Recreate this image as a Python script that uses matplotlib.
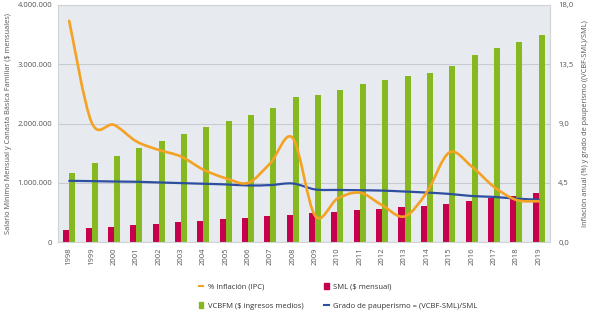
import numpy as np
import matplotlib
matplotlib.use("Agg")
import matplotlib.pyplot as plt
from matplotlib.path import Path
from matplotlib.patches import PathPatch
from matplotlib.lines import Line2D
from matplotlib.patches import Patch

years = [str(y) for y in range(1998, 2020)]
sml = [203826, 236460, 260100, 286000, 309000, 332000, 358000, 381500, 408000, 433700, 461500,
       496900, 515000, 535600, 566700, 589500, 616000, 644350, 689455, 737717, 781242, 828116]
vcbfm = [1160000, 1330000, 1460000, 1580000, 1700000, 1820000, 1940000, 2040000, 2140000, 2270000, 2450000,
         2490000, 2570000, 2670000, 2740000, 2810000, 2850000, 2970000, 3160000, 3280000, 3380000, 3490000]
inflacion = [16.8, 9.1, 8.9, 7.65, 7.0, 6.5, 5.5, 4.85, 4.5, 6.0, 7.9,
             2.0, 3.3, 3.75, 2.8, 1.95, 3.8, 6.8, 5.75, 4.2, 3.2, 3.1]
pauperismo = [4.65, 4.63, 4.6, 4.58, 4.53, 4.48, 4.43, 4.38, 4.3, 4.33, 4.45,
              4.0, 3.96, 3.94, 3.91, 3.84, 3.76, 3.66, 3.5, 3.43, 3.3, 3.22]

left_ticks = [0, 1000000, 2000000, 3000000, 4000000]
left_labels = ["0", "1.000.000", "2.000.000", "3.000.000", "4.000.000"]
right_ticks = [0, 4.5, 9, 13.5, 18]
right_labels = ["0,0", "4,5", "9,0", "13,5", "18,0"]

c_green = "#86B81F"
c_red = "#C6004C"
c_orange = "#F4A224"
c_blue = "#2E4FA0"
txt = "#555555"

plt.rcParams['font.family'] = ['Open Sans', 'DejaVu Sans']

fig = plt.figure(figsize=(5.89, 3.12), dpi=100)
ax = fig.add_axes([0.0985, 0.224, 0.835, 0.76])
ax.set_facecolor("#E7EAEF")
x = np.arange(len(years))
w = 0.27
ax.bar(x - w / 2, sml, width=w, color=c_red, zorder=2)
ax.bar(x + w / 2, vcbfm, width=w, color=c_green, zorder=2)
ax.set_xlim(-0.5, len(years) - 0.5)
ax.set_ylim(0, 4000000)
ax.set_yticks(left_ticks)
ax.set_yticklabels(left_labels)
ax.grid(axis='y', color="#C8CBD0", linewidth=0.8, zorder=0)
ax.set_axisbelow(True)
ax.set_xticks(x)
ax.set_xticklabels(years, rotation=90)
ax.tick_params(axis='both', length=0, labelsize=5.5, colors=txt, pad=4)
for s in ax.spines.values():
    s.set_color("#D0D3D8")
    s.set_linewidth(0.8)
ax.set_ylabel("Salario Mínimo Mensual y Canasta Básica Familiar ($ mensuales)", fontsize=5.3, color=txt, labelpad=4)

ax2 = ax.twinx()
ax2.set_ylim(0, 18)
ax2.set_yticks(right_ticks)
ax2.set_yticklabels(right_labels)
ax2.tick_params(axis='y', length=0, labelsize=5.5, colors=txt, pad=6)
for s in ax2.spines.values():
    s.set_visible(False)
ax2.set_ylabel("Inflación anual (%) y grado de pauperismo ((VCBF-SML)/SML)", fontsize=5.3, color=txt, labelpad=6)


def smooth_path(xs, ys):
    xs = np.asarray(xs, float)
    ys = np.asarray(ys, float)
    pts = np.column_stack([xs, ys])
    verts = [pts[0]]
    codes = [Path.MOVETO]
    n = len(pts)
    for i in range(n - 1):
        p0 = pts[i - 1] if i > 0 else pts[i]
        p1 = pts[i]
        p2 = pts[i + 1]
        p3 = pts[i + 2] if i + 2 < n else pts[i + 1]
        c1 = p1 + (p2 - p0) / 6.0
        c2 = p2 - (p3 - p1) / 6.0
        verts += [c1, c2, p2]
        codes += [Path.CURVE4] * 3
    return Path(verts, codes)


ax2.add_patch(PathPatch(smooth_path(x, pauperismo), facecolor='none', edgecolor=c_blue, lw=1.6, capstyle='round', zorder=3))
ax2.add_patch(PathPatch(smooth_path(x, inflacion), facecolor='none', edgecolor=c_orange, lw=1.9, capstyle='round', zorder=4))

handles = [
    Line2D([0], [0], color=c_orange, lw=1.5),
    Patch(color=c_green),
    Patch(color=c_red),
    Line2D([0], [0], color=c_blue, lw=1.5),
]
labels = ["% Inflación (IPC)", "VCBFM ($ ingresos medios)", "SML ($ mensual)",
          "Grado de pauperismo = (VCBF-SML)/SML"]
leg = fig.legend(handles, labels, ncol=2, loc='center', bbox_to_anchor=(0.574, 0.05),
                 frameon=False, fontsize=5.5, handlelength=0.6, handleheight=0.8,
                 handletextpad=0.6, columnspacing=2.7, labelspacing=1.45)
for t in leg.get_texts():
    t.set_color("#333333")

fig.savefig("out.png", dpi=100)
